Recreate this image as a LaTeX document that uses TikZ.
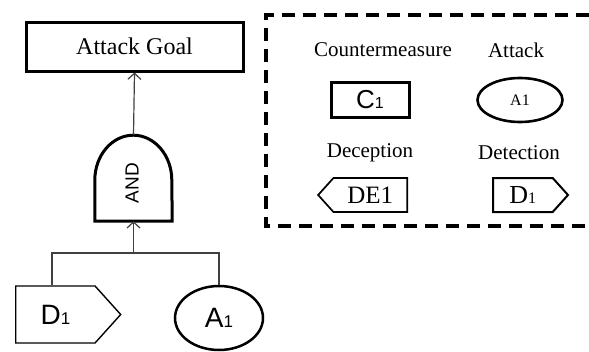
\documentclass[tikz,border=0pt]{standalone}
\usepackage{fontspec}
\setmainfont{Liberation Serif}
\setsansfont{Liberation Sans}
\usetikzlibrary{arrows.meta,shapes.geometric,shapes.symbols}
\tikzset{
    goalbox/.style={
        draw, line width=3pt,
        minimum width=217pt, minimum height=49pt,
        font=\fontsize{24}{28}\selectfont
    },
    gatebox/.style={minimum width=77pt, minimum height=86pt, inner sep=0pt},
    link/.style={line width=1.2pt, black!75},
    uparrow/.style={
        link, ->,
        >={Straight Barb[length=6pt, width=13pt]}
    },
    % leaves of the tree
    detleaf/.style={
        draw, line width=1.4pt, signal, signal to=east, signal from=nowhere,
        signal pointer angle=96, minimum height=57pt, minimum width=105pt,
        inner sep=0pt, font=\sffamily\fontsize{28}{30}\selectfont
    },
    atkleaf/.style={
        draw, ellipse, line width=2.5pt, minimum width=88pt, minimum height=64pt,
        inner sep=0pt, font=\sffamily\fontsize{28}{30}\selectfont
    },
    % legend
    legendframe/.style={line width=3.5pt, dash pattern=on 13pt off 8pt},
    legendlabel/.style={font=\fontsize{21}{24}\selectfont},
    cmbox/.style={
        draw, line width=3pt, minimum width=78pt, minimum height=35pt,
        inner sep=0pt, font=\sffamily\fontsize{26}{28}\selectfont
    },
    atkmark/.style={
        draw, ellipse, line width=2.6pt, minimum width=85pt, minimum height=44pt,
        inner sep=0pt, font=\fontsize{16}{18}\selectfont
    },
    decmark/.style={
        draw, line width=1.7pt, signal, signal to=west, signal from=nowhere,
        signal pointer angle=96, minimum height=34pt, minimum width=89pt,
        inner sep=0pt, font=\fontsize{25}{28}\selectfont
    },
    detmark/.style={
        draw, line width=2pt, signal, signal to=east, signal from=nowhere,
        signal pointer angle=96, minimum height=34pt, minimum width=75pt,
        inner sep=0pt, font=\fontsize{26}{28}\selectfont
    }
}

\begin{document}
\begin{tikzpicture}[x=1pt, y=-1pt]
    \useasboundingbox (0,0) rectangle (589,351);
    \clip (0,0) rectangle (589,351);

    % attack tree
    \node (goal) [goalbox] at (134.5,46.5) {Attack Goal};
    \node (and) [gatebox] at (133.5,178) {};
    \draw[line width=3pt] (and.south west) -- ++(0,-41)
        arc[start angle=180, end angle=0, x radius=38.5pt, y radius=45pt]
        -- (and.south east) -- cycle;
    \node (andlbl) [rotate=90, font=\sffamily\fontsize{19}{21}\selectfont] at (132,183) {AND};
    \node (d1) [detleaf, anchor=west] at (15,314.5) {D{\fontsize{17}{17}\selectfont 1}};
    \node (a1) [atkleaf] at (219,318) {A{\fontsize{17}{17}\selectfont 1}};
    \coordinate (fork) at (133.5,253);

    \draw[uparrow] (and.north) -- (goal.south);
    \draw[uparrow] (fork) -- (and.south);
    \draw[link] (fork) -| ([xshift=37pt]d1.north west);
    \draw[link] (fork) -| (a1.north);

    % legend (its right side runs off the page)
    \draw[legendframe] (589,15) -- (266,15) -- (266,226) -- (589,226);
    \node (cmlbl) [legendlabel] at (383,50) {Countermeasure};
    \node (atklbl) [legendlabel] at (516,50) {Attack};
    \node (c1) [cmbox] at (370,99.5) {C{\fontsize{16}{16}\selectfont 1}};
    \node (atk) [atkmark] at (520,100) {A1};
    \node (declbl) [legendlabel] at (370,153) {Deception};
    \node (detlbl) [legendlabel] at (519,153) {Detection};
    \node (de1) [decmark, anchor=east] at (408,195) {DE1};
    \node (det) [detmark, anchor=west] at (492,195) {D{\fontsize{16}{16}\selectfont 1}};
\end{tikzpicture}
\end{document}
